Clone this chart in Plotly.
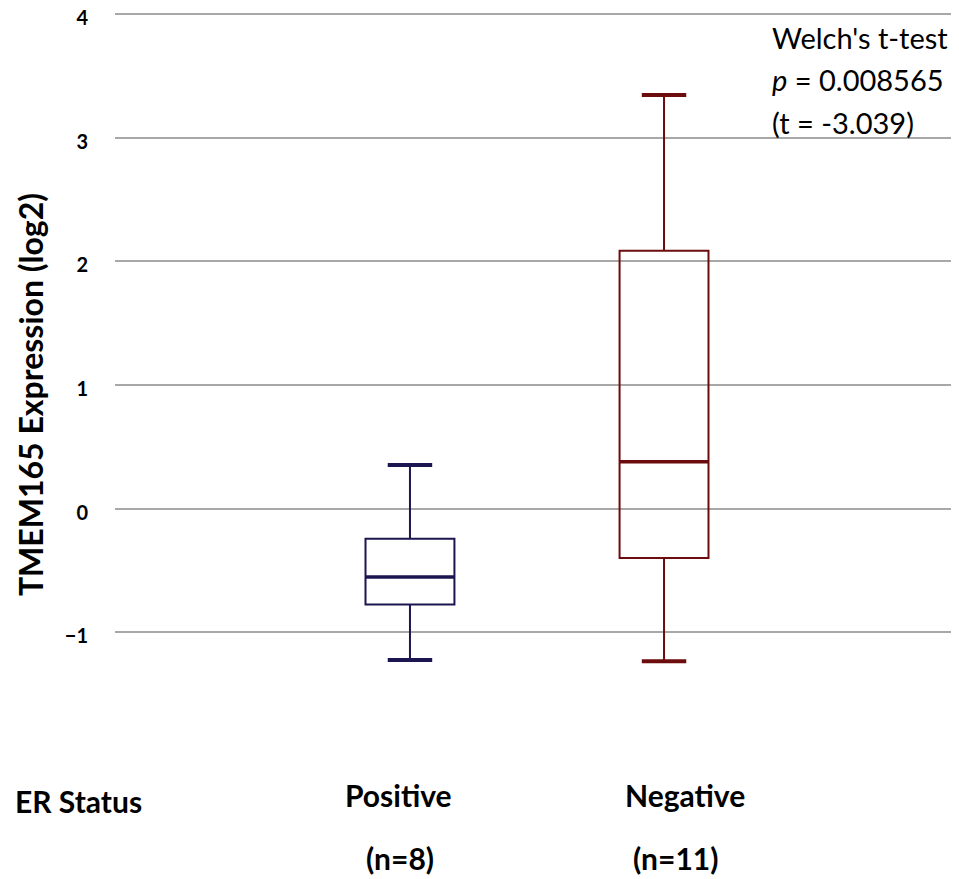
import plotly.graph_objects as go

# ---- data ----
groups = ["Positive", "Negative"]
n_labels = ["(n=8)", "(n=11)"]
lower_whisker = [-1.225, -1.235]
q1_values = [-0.775, -0.40]
median_values = [-0.553, 0.378]
q3_values = [-0.244, 2.086]
upper_whisker = [0.352, 3.345]
y_ticks = [-1, 0, 1, 2, 3, 4]
test_lines = ["Welch's t-test", "<i>p</i> = 0.008565", "(t = -3.039)"]

colors = ["#1c1650", "#6c0c0c"]
positions = [0, 1]
box_w = 0.35
cap_half = box_w / 4

fig = go.Figure()
for i, g in enumerate(groups):
    fig.add_trace(go.Box(
        x=[positions[i]], q1=[q1_values[i]], median=[median_values[i]],
        q3=[q3_values[i]], lowerfence=[lower_whisker[i]],
        upperfence=[upper_whisker[i]], width=box_w, whiskerwidth=0,
        fillcolor="rgba(255,255,255,0)", line=dict(color=colors[i], width=2),
        name=g, showlegend=False, boxpoints=False, hoverinfo="skip"))
    # thick median line
    fig.add_trace(go.Scatter(
        x=[positions[i] - box_w / 2, positions[i] + box_w / 2],
        y=[median_values[i], median_values[i]], mode="lines",
        line=dict(color=colors[i], width=3.5), showlegend=False, hoverinfo="skip"))
    # whisker caps
    for yv in (lower_whisker[i], upper_whisker[i]):
        fig.add_trace(go.Scatter(
            x=[positions[i] - cap_half, positions[i] + cap_half],
            y=[yv, yv], mode="lines",
            line=dict(color=colors[i], width=4), showlegend=False, hoverinfo="skip"))

label_font = dict(family="Lato", size=30, color="black", weight="bold")
label_x = [-0.047, 1.083]
n_x = [-0.039, 1.047]
anns = []
for i in range(len(groups)):
    anns.append(dict(x=label_x[i], y=-0.1373, xref="x", yref="paper",
                     text=groups[i], showarrow=False, font=label_font,
                     xanchor="center", yanchor="middle"))
    anns.append(dict(x=n_x[i], y=-0.2283, xref="x", yref="paper",
                     text=n_labels[i], showarrow=False, font=label_font,
                     xanchor="center", yanchor="middle"))
anns.append(dict(x=-0.0438, y=-0.146, xref="paper", yref="paper",
                 text="ER Status", showarrow=False, font=label_font,
                 xanchor="center", yanchor="middle"))
anns.append(dict(x=-0.1, y=0.4415, xref="paper", yref="paper",
                 text="TMEM165 Expression (log2)", textangle=-90, showarrow=False,
                 font=dict(family="Lato", size=32, color="black", weight="bold"),
                 xanchor="center", yanchor="middle"))
for j, (t, yy) in enumerate(zip(test_lines, [0.958, 0.896, 0.835])):
    anns.append(dict(x=0.776, y=yy, xref="paper", yref="paper", text=t,
                     showarrow=False, xanchor="left", yanchor="middle",
                     font=dict(family="Lato", size=29, color="black")))

fig.update_layout(
    width=951, height=871,
    margin=dict(l=107, r=0, t=0, b=179),
    plot_bgcolor="white", paper_bgcolor="white",
    annotations=anns, showlegend=False,
    xaxis=dict(range=[-1.161, 2.161], showticklabels=False, showgrid=False,
               zeroline=False, showline=False, fixedrange=True, automargin=False),
    yaxis=dict(range=[-1.548, 4.0485], tickvals=y_ticks, showgrid=True,
               gridcolor="#a8a8a8", gridwidth=2, zeroline=False, showline=False,
               ticks="outside", ticklen=22, tickcolor="rgba(0,0,0,0)",
               ticklabeloverflow="allow", automargin=False, ticklabelshift=4,
               tickfont=dict(family="Lato", size=20, color="black",
                             weight="bold")),
)

fig.write_html("out.html")
